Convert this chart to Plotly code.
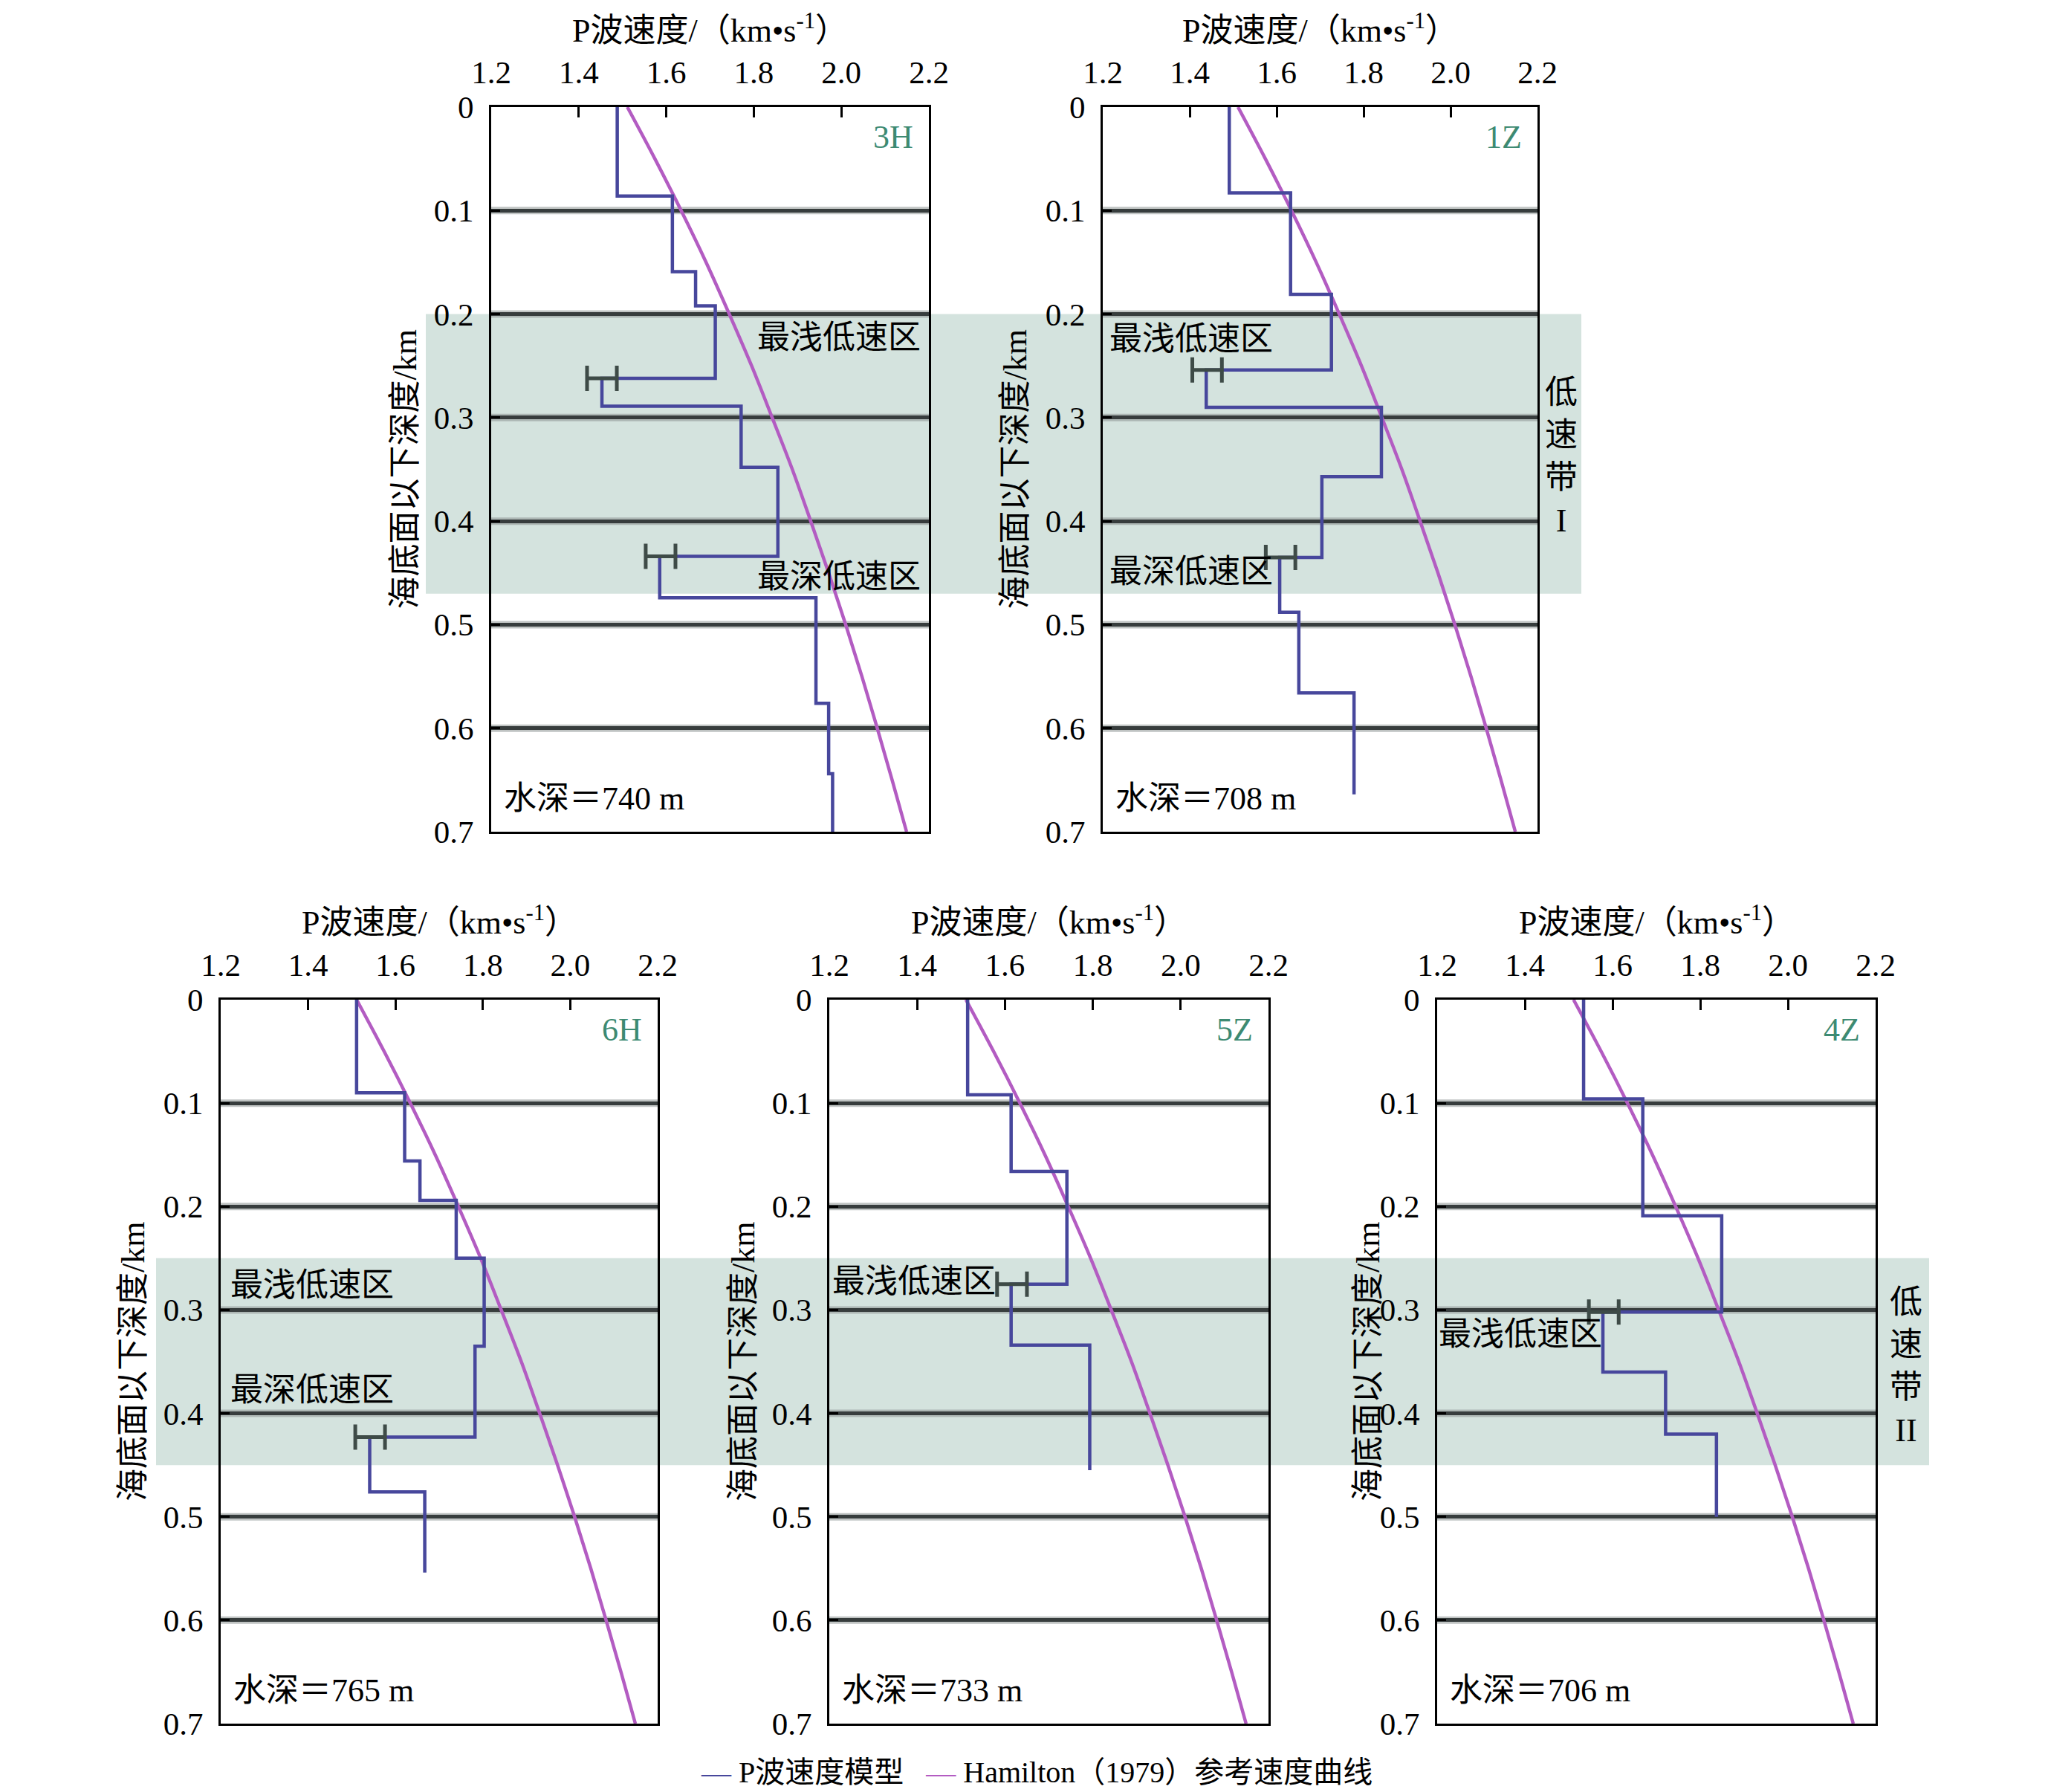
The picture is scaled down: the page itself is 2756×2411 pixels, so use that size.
import plotly.graph_objects as go

W, H = 2756, 2411

# ---------------- data ----------------
panel_names = ["3H", "1Z", "6H", "5Z", "4Z"]
water_depths = ["740", "708", "765", "733", "706"]

# P-wave step velocity model: layer velocities (km/s) and layer top depths (km)
v_3H = [1.488, 1.614, 1.667, 1.712, 1.453, 1.771, 1.855, 1.585, 1.942, 1.971, 1.980]
top_3H = [0.0, 0.086, 0.159, 0.192, 0.262, 0.289, 0.348, 0.434, 0.474, 0.576, 0.644]
end_3H = 0.700

v_1Z = [1.491, 1.632, 1.726, 1.438, 1.841, 1.704, 1.607, 1.651, 1.778]
top_1Z = [0.0, 0.083, 0.181, 0.254, 0.290, 0.357, 0.435, 0.488, 0.566]
end_1Z = 0.664

v_6H = [1.511, 1.621, 1.656, 1.739, 1.803, 1.782, 1.541, 1.667]
top_6H = [0.0, 0.090, 0.156, 0.194, 0.250, 0.335, 0.423, 0.476]
end_6H = 0.554

v_5Z = [1.515, 1.614, 1.741, 1.614, 1.793]
top_5Z = [0.0, 0.092, 0.166, 0.275, 0.334]
end_5Z = 0.455

v_4Z = [1.534, 1.669, 1.849, 1.578, 1.721, 1.837]
top_4Z = [0.0, 0.096, 0.209, 0.302, 0.360, 0.420]
end_4Z = 0.500

# error bars at low-velocity zones: depth, centre velocity, half width
err_depth_3H, err_v_3H = [0.262, 0.434], [1.453, 1.587]
err_depth_1Z, err_v_1Z = [0.254, 0.435], [1.440, 1.609]
err_depth_6H, err_v_6H = [0.423], [1.542]
err_depth_5Z, err_v_5Z = [0.275], [1.616]
err_depth_4Z, err_v_4Z = [0.302], [1.580]
err_half = 0.034

# Hamilton (1979) reference curve
ham_depth = [0.0, 0.05, 0.10, 0.15, 0.20, 0.25, 0.30, 0.35, 0.40, 0.45, 0.50, 0.55, 0.60, 0.65, 0.70]
ham_v = [1.511, 1.574, 1.634, 1.691, 1.744, 1.795, 1.842, 1.888, 1.930, 1.971, 2.010, 2.047, 2.082, 2.116, 2.149]

# low velocity belts (depth ranges)
belt1 = [0.20, 0.47]
belt2 = [0.25, 0.45]

x_ticks = [1.2, 1.4, 1.6, 1.8, 2.0, 2.2]
y_ticks = [0.0, 0.1, 0.2, 0.3, 0.4, 0.5, 0.6, 0.7]
inner_grid = [0.1, 0.2, 0.3, 0.4, 0.5, 0.6]

legend_names = ["P波速度模型", "Hamilton（1979）参考速度曲线"]

models = [
    (v_3H, top_3H, end_3H, err_depth_3H, err_v_3H),
    (v_1Z, top_1Z, end_1Z, err_depth_1Z, err_v_1Z),
    (v_6H, top_6H, end_6H, err_depth_6H, err_v_6H),
    (v_5Z, top_5Z, end_5Z, err_depth_5Z, err_v_5Z),
    (v_4Z, top_4Z, end_4Z, err_depth_4Z, err_v_4Z),
]

# ---------------- layout geometry (pixels) ----------------
boxes = [  # x0, x1, y0(top), y1(bottom)
    (661, 1250, 144, 1119),
    (1484, 2069, 144, 1119),
    (297, 885, 1345, 2319),
    (1116, 1707, 1345, 2319),
    (1934, 2524, 1345, 2319),
]
ytitle_px = [545, 1366, 179, 1000, 1841]

FONT = "Liberation Serif, Times New Roman, Noto Sans CJK SC, serif"
STEP_C = "#47479c"
HAM_C = "#b35cc2"
ERR_C = "#3e4b47"
TEAL = "#3d8a72"
BAND_C = "#d4e3de"
GRID_C = "#373d3d"
HALO_C = "rgba(140,148,146,0.55)"


def px2fx(px):
    return px / W


def py2fy(py):
    return 1 - py / H


fig = go.Figure()
layout = dict(
    width=W, height=H, margin=dict(l=0, r=0, t=0, b=0, autoexpand=False), autosize=False,
    paper_bgcolor="white", plot_bgcolor="rgba(0,0,0,0)",
    font=dict(family=FONT, size=42, color="black"),
    showlegend=False,
)
annotations = []
shapes = []

# belt bands (drawn first, beneath everything)
shapes.append(dict(
    type="rect", xref="paper", yref="y", x0=px2fx(573), x1=px2fx(2128),
    y0=belt1[0], y1=belt1[1], fillcolor=BAND_C, line=dict(width=0), layer="below",
))
shapes.append(dict(
    type="rect", xref="paper", yref="y3", x0=px2fx(210), x1=px2fx(2596),
    y0=belt2[0], y1=belt2[1], fillcolor=BAND_C, line=dict(width=0), layer="below",
))

for i, (name, (v, top, end, ed, ev)) in enumerate(zip(panel_names, models)):
    sfx = "" if i == 0 else str(i + 1)
    xr, yr = "x" + sfx, "y" + sfx
    x0, x1, y0, y1 = boxes[i]
    layout["xaxis" + sfx] = dict(
        domain=[px2fx(x0), px2fx(x1)], range=[1.2, 2.2], side="top", anchor=yr,
        tickvals=x_ticks, ticktext=["%.1f" % t for t in x_ticks],
        ticks="inside", ticklen=14, tickwidth=3, tickcolor="black",
        showline=True, mirror=True, linewidth=3, linecolor="black",
        showgrid=False, zeroline=False, ticklabelstandoff=12, automargin=False,
        tickfont=dict(size=43, family=FONT),
    )
    layout["yaxis" + sfx] = dict(
        domain=[py2fy(y1), py2fy(y0)], range=[0.7, 0.0], anchor=xr,
        tickvals=y_ticks, ticktext=["0" if t == 0 else "%.1f" % t for t in y_ticks],
        ticks="inside", ticklen=12, tickwidth=3, tickcolor="black",
        showline=True, mirror=True, linewidth=3, linecolor="black",
        showgrid=True, gridcolor=GRID_C, gridwidth=5, zeroline=False, automargin=False,
        ticklabelstandoff=12, tickfont=dict(size=43, family=FONT),
    )
    # soft halo under the grid lines
    for g in inner_grid:
        shapes.append(dict(
            type="line", xref=xr + " domain", yref=yr, x0=0, x1=1, y0=g, y1=g,
            line=dict(color=HALO_C, width=10), layer="below",
        ))

    # Hamilton curve
    fig.add_trace(go.Scatter(
        x=ham_v, y=ham_depth, mode="lines", line=dict(color=HAM_C, width=4.5, shape="spline"),
        name=legend_names[1], xaxis=xr, yaxis=yr,
    ))
    # step model
    fig.add_trace(go.Scatter(
        x=v + [v[-1]], y=top + [end], mode="lines",
        line=dict(color=STEP_C, width=4.5, shape="vh"),
        name=legend_names[0], xaxis=xr, yaxis=yr,
    ))
    # error bars
    fig.add_trace(go.Scatter(
        x=ev, y=ed, mode="markers", marker=dict(size=2, color=ERR_C, opacity=0),
        error_x=dict(type="constant", value=err_half, color=ERR_C, thickness=5, width=17),
        hoverinfo="skip", xaxis=xr, yaxis=yr,
    ))

    cx = px2fx((x0 + x1) / 2)
    title_y = py2fy(38 if y0 < 500 else 1239)
    annotations.append(dict(
        xref="paper", yref="paper", x=cx, y=title_y, xanchor="center", yanchor="middle",
        text="P波速度/（km•s<sup>-1</sup>）", showarrow=False, font=dict(size=44, family=FONT),
    ))
    annotations.append(dict(
        xref="paper", yref="paper", x=px2fx(ytitle_px[i]), y=py2fy((y0 + y1) / 2),
        xanchor="center", yanchor="middle", textangle=-90,
        text="海底面以下深度/km", showarrow=False, font=dict(size=44, family=FONT),
    ))
    # station label
    annotations.append(dict(
        xref=xr, yref=yr, x=2.168, y=0.029, xanchor="right", yanchor="middle",
        text=name, showarrow=False, font=dict(size=44, color=TEAL, family=FONT),
    ))
    # water depth
    annotations.append(dict(
        xref=xr, yref=yr, x=1.225, y=0.668, xanchor="left", yanchor="middle",
        text="水深＝%s m" % water_depths[i], showarrow=False, font=dict(size=44, family=FONT),
    ))

# zone labels
zone_labels = [
    ("x", "y", 2.185, 0.223, "right", "最浅低速区"),
    ("x", "y", 2.185, 0.454, "right", "最深低速区"),
    ("x2", "y2", 1.212, 0.224, "left", "最浅低速区"),
    ("x2", "y2", 1.212, 0.449, "left", "最深低速区"),
    ("x3", "y3", 1.218, 0.276, "left", "最浅低速区"),
    ("x3", "y3", 1.218, 0.378, "left", "最深低速区"),
    ("x4", "y4", 1.203, 0.273, "left", "最浅低速区"),
    ("x5", "y5", 1.200, 0.324, "left", "最浅低速区"),
]
for xr, yr, x, y, anc, t in zone_labels:
    annotations.append(dict(
        xref=xr, yref=yr, x=x, y=y, xanchor=anc, yanchor="middle", text=t,
        showarrow=False, font=dict(size=44, family=FONT),
    ))

# belt labels
annotations.append(dict(
    xref="paper", yref="y", x=px2fx(2101), y=0.338, xanchor="center", yanchor="middle",
    text="低<br>速<br>带<br>I", showarrow=False, font=dict(size=44, family=FONT),
))
annotations.append(dict(
    xref="paper", yref="y5", x=px2fx(2565), y=0.355, xanchor="center", yanchor="middle",
    text="低<br>速<br>带<br>II", showarrow=False, font=dict(size=44, family=FONT),
))

# legend (line keys + labels)
NB = "\u00a0"
legend_text = (
    "<span style='color:%s'>—</span>%s%s%s%s%s<span style='color:%s'>—</span>%s%s"
    % (STEP_C, NB, legend_names[0], NB, NB, NB, HAM_C, NB, legend_names[1])
)
annotations.append(dict(
    xref="paper", yref="paper", x=px2fx(1395), y=py2fy(2384), xanchor="center", yanchor="middle",
    text=legend_text, showarrow=False, font=dict(size=40, family=FONT),
))

layout["annotations"] = annotations
layout["shapes"] = shapes
fig.update_layout(**layout)
fig.write_html(
    "out.html",
    config={"displayModeBar": False},
    post_script="document.body.style.margin='0';document.body.style.padding='0';"
                "document.documentElement.style.overflow='hidden';",
)
